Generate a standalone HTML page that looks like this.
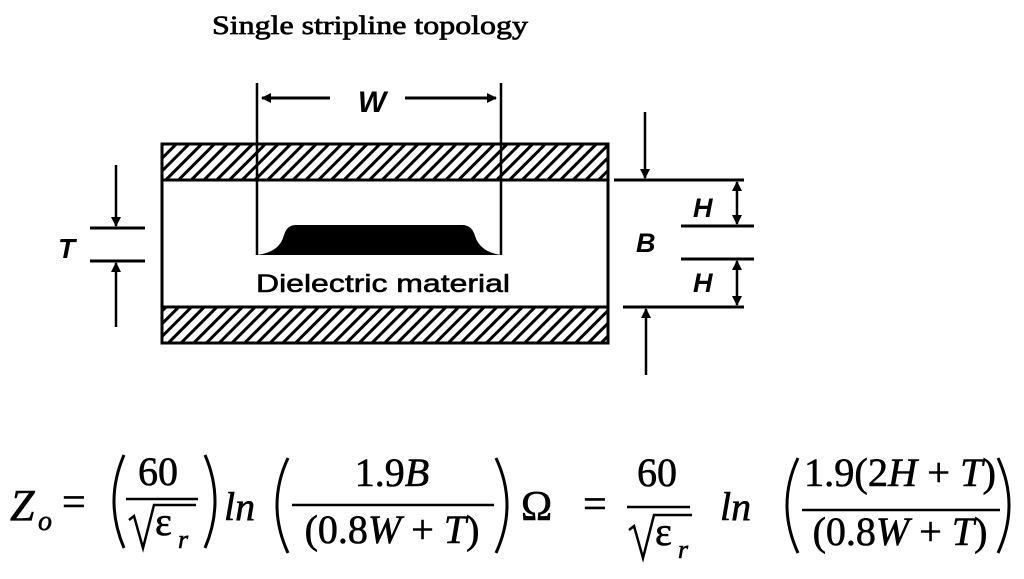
<!DOCTYPE html>
<html><head><meta charset="utf-8"><style>
html,body{margin:0;padding:0;background:#fff;width:1024px;height:579px;overflow:hidden}
svg{display:block}
.s{font-family:"Liberation Serif",serif;fill:#000}
.a{font-family:"Liberation Sans",sans-serif;fill:#000}
</style></head><body>
<svg width="1024" height="579" viewBox="0 0 1024 579" xmlns="http://www.w3.org/2000/svg">
<defs>
<pattern id="h" patternUnits="userSpaceOnUse" width="9" height="9" patternTransform="rotate(45)">
<rect width="9" height="9" fill="#fff"/><rect x="0" y="0" width="3" height="9" fill="#000"/>
</pattern>
<marker id="ar" markerWidth="10" markerHeight="10" refX="9" refY="5" orient="auto" markerUnits="userSpaceOnUse"><path d="M0,0 L10,5 L0,10 z" fill="#000"/></marker>
</defs>
<text class="s" x="212" y="34" font-size="26" stroke="#000" stroke-width="0.7" textLength="316" lengthAdjust="spacingAndGlyphs">Single stripline topology</text>

<!-- plates -->
<rect x="162" y="144" width="446" height="36" fill="url(#h)" stroke="#000" stroke-width="3"/>
<rect x="162" y="307" width="446" height="36" fill="url(#h)" stroke="#000" stroke-width="3"/>
<line x1="162" y1="180" x2="162" y2="307" stroke="#000" stroke-width="3"/>
<line x1="608" y1="180" x2="608" y2="307" stroke="#000" stroke-width="3"/>

<!-- W -->
<line x1="257" y1="83" x2="257" y2="255" stroke="#000" stroke-width="2.5"/>
<line x1="501" y1="83" x2="501" y2="255" stroke="#000" stroke-width="2.5"/>
<line x1="330" y1="98" x2="262" y2="98" stroke="#000" stroke-width="3" marker-end="url(#ar)"/>
<line x1="405" y1="98" x2="496" y2="98" stroke="#000" stroke-width="3" marker-end="url(#ar)"/>
<text class="a" x="372" y="112" font-size="30" font-style="italic" font-weight="bold" text-anchor="middle">W</text>

<!-- strip -->
<path d="M257,255 Q280,252 284,235 Q287,225 296,225 L462,225 Q472,225 475,236 Q480,252 501,255 Z" fill="#000"/>
<text class="a" x="383" y="292" font-size="25" text-anchor="middle" textLength="254" lengthAdjust="spacingAndGlyphs" stroke="#000" stroke-width="0.6">Dielectric material</text>

<!-- T -->
<line x1="90" y1="228" x2="145" y2="228" stroke="#000" stroke-width="3"/>
<line x1="90" y1="261" x2="145" y2="261" stroke="#000" stroke-width="3"/>
<line x1="116" y1="165" x2="116" y2="226" stroke="#000" stroke-width="2.5" marker-end="url(#ar)"/>
<line x1="116" y1="327" x2="116" y2="263" stroke="#000" stroke-width="2.5" marker-end="url(#ar)"/>
<text class="a" x="58" y="258" font-size="28" font-style="italic" font-weight="bold">T</text>

<!-- B / H -->
<line x1="614" y1="180" x2="744" y2="180" stroke="#000" stroke-width="3"/>
<line x1="623" y1="307" x2="744" y2="307" stroke="#000" stroke-width="3"/>
<line x1="681" y1="226" x2="754" y2="226" stroke="#000" stroke-width="3"/>
<line x1="681" y1="259" x2="754" y2="259" stroke="#000" stroke-width="3"/>
<line x1="645" y1="112" x2="645" y2="178" stroke="#000" stroke-width="2.5" marker-end="url(#ar)"/>
<line x1="646" y1="375" x2="646" y2="309" stroke="#000" stroke-width="2.5" marker-end="url(#ar)"/>
<line x1="737" y1="194" x2="737" y2="182" stroke="#000" stroke-width="2.5" marker-end="url(#ar)"/>
<line x1="737" y1="210" x2="737" y2="224" stroke="#000" stroke-width="2.5" marker-end="url(#ar)"/>
<line x1="737" y1="274" x2="737" y2="261" stroke="#000" stroke-width="2.5" marker-end="url(#ar)"/>
<line x1="737" y1="290" x2="737" y2="305" stroke="#000" stroke-width="2.5" marker-end="url(#ar)"/>
<line x1="737" y1="194" x2="737" y2="210" stroke="#000" stroke-width="2.5"/>
<line x1="737" y1="274" x2="737" y2="290" stroke="#000" stroke-width="2.5"/>
<text class="a" x="693" y="217" font-size="27" font-style="italic" font-weight="bold">H</text>
<text class="a" x="693" y="292" font-size="27" font-style="italic" font-weight="bold">H</text>
<text class="a" x="636" y="252" font-size="27" font-style="italic" font-weight="bold">B</text>

<!-- equation -->
<g class="s" font-size="40" stroke="#000" stroke-width="0.6">
<g fill="none" stroke="#000" stroke-width="3">
<path d="M124,455 Q104,501 124,548"/>
<path d="M205,455 Q225,501 205,548"/>
<path d="M288,458 Q266,505 288,553"/>
<path d="M496,458 Q518,505 496,553"/>
<path d="M798,458 Q776,505 798,553"/>
<path d="M998,458 Q1020,505 998,553"/>
<path d="M129,520 L134,516 L143,548 L154,505 L196,505" stroke-width="2.5"/>
<path d="M629,530 L634,526 L643,558 L654,515 L692,515" stroke-width="2.5"/>
</g>
<text x="10" y="520" font-style="italic" font-size="44">Z</text>
<text x="38" y="530" font-size="28" font-style="italic">o</text>
<text x="62" y="516" font-size="42">=</text>
<text x="158" y="485" text-anchor="middle">60</text>
<line x1="126" y1="499" x2="198" y2="499" stroke="#000" stroke-width="2.5"/>
<text x="155" y="535">ε</text>
<text x="178" y="548" font-size="26" font-style="italic">r</text>
<text x="224" y="520" font-style="italic">ln</text>
<text x="392" y="486" text-anchor="middle">1.9<tspan font-style="italic">B</tspan></text>
<line x1="292" y1="505" x2="494" y2="505" stroke="#000" stroke-width="2.5"/>
<text x="392" y="543" text-anchor="middle">(0.8<tspan font-style="italic">W</tspan> + <tspan font-style="italic">T</tspan>)</text>
<text x="521" y="520" font-size="42">Ω</text>
<text x="583" y="518" font-size="42">=</text>
<text x="657" y="486" text-anchor="middle">60</text>
<line x1="627" y1="507" x2="690" y2="507" stroke="#000" stroke-width="2.5"/>
<text x="655" y="545">ε</text>
<text x="678" y="558" font-size="26" font-style="italic">r</text>
<text x="720" y="520" font-style="italic">ln</text>
<text x="900" y="486" text-anchor="middle" textLength="192" lengthAdjust="spacingAndGlyphs">1.9(2<tspan font-style="italic">H</tspan> + <tspan font-style="italic">T</tspan>)</text>
<line x1="802" y1="510" x2="1000" y2="510" stroke="#000" stroke-width="2.5"/>
<text x="900" y="545" text-anchor="middle">(0.8<tspan font-style="italic">W</tspan> + <tspan font-style="italic">T</tspan>)</text>
</g>
</svg>
</body></html>
